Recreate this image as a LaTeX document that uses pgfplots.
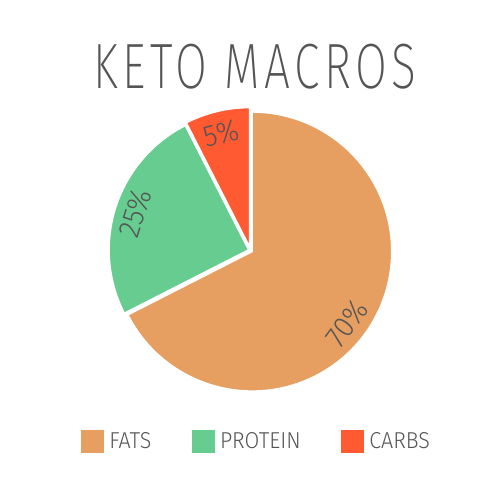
\documentclass[border=0pt]{standalone}
\usepackage{fontspec}
\usepackage{pgfplots}
\pgfplotsset{compat=1.18}
\usepackage{pgfplotstable}
\IfFontExistsTF{Fira Sans Light}{%
  \setmainfont{Fira Sans Light}[FakeStretch=0.93]
}{%
  \setmainfont{Fira Sans}[FakeStretch=0.93]
}
\IfFontExistsTF{Fira Sans ExtraLight}{%
  \newfontfamily\titlefont{Fira Sans ExtraLight}[FakeStretch=0.72,LetterSpace=7]
}{%
  \newfontfamily\titlefont{Fira Sans Light}[FakeStretch=0.72,LetterSpace=7]
}
\definecolor{txt}{RGB}{85,85,85}
\definecolor{fatsc}{RGB}{230,159,96}
\definecolor{protc}{RGB}{102,204,144}
\definecolor{carbc}{RGB}{255,90,50}

% share of the circle as drawn, printed label, label angle, push-out
\pgfplotstableread{
name    value label lang push col
Carbs   7.5   5     104  3.5  carbc
Protein 25    25    162  2    protc
Fats    67.5  70    -37  2    fatsc
}\macros

\begin{document}
\begin{tikzpicture}
\begin{axis}[
    name=ax,
    x=1pt, y=1pt,
    xmin=0, xmax=500, ymin=0, ymax=480,
    hide axis, clip=false,
    legend columns=3,
    legend style={at={(axis cs:256.5,39)}, anchor=center, draw=none, fill=none,
        font=\fontsize{23}{26}\selectfont\color{txt},
        /tikz/every even column/.append style={column sep=38.5pt}},
    legend image code/.code={\fill[#1,draw=none] (0pt,-11.5pt) rectangle (23pt,11.5pt); \path (26pt,0pt);},
]
\def\cx{250.5}\def\cy{229.5}\def\r{139.5}
\pgfplotstablegetrowsof{\macros}
\pgfmathtruncatemacro\N{\pgfplotsretval-1}
\def\acc{90}
\pgfplotsforeachungrouped \i in {0,...,\N}{%
  \pgfplotstablegetelem{\i}{value}\of\macros \let\v\pgfplotsretval
  \pgfplotstablegetelem{\i}{col}\of\macros \let\c\pgfplotsretval
  \pgfplotstablegetelem{\i}{push}\of\macros \let\d\pgfplotsretval
  \pgfplotstablegetelem{\i}{label}\of\macros \let\lab\pgfplotsretval
  \pgfplotstablegetelem{\i}{lang}\of\macros \let\la\pgfplotsretval
  \pgfmathsetmacro\a{\acc}
  \pgfmathsetmacro\b{\acc+3.6*\v}
  \pgfmathsetmacro\m{(\a+\b)/2}
  \pgfmathsetmacro\px{\cx+\d*cos(\m)}
  \pgfmathsetmacro\py{\cy+\d*sin(\m)}
  \pgfmathsetmacro\lx{\cx+121*cos(\la)}
  \pgfmathsetmacro\ly{\cy+121*sin(\la)}
  \pgfmathsetmacro\rot{ifthenelse(\la>0,\la-90,\la+90)}
  \edef\temp{%
    \noexpand\fill[fill=\c, draw=white, line width=1.5pt]
      (axis cs:\px,\py) -- ++(\a:\r pt)
      arc[start angle=\a, end angle=\b, radius=\r pt] -- cycle;
    \noexpand\node[rotate=\rot, text=txt, font=\noexpand\fontsize{30}{32}\noexpand\selectfont]
      at (axis cs:\lx,\ly) {\lab\noexpand\%};
  }\temp
  \global\let\acc\b
}
\node[text=txt, inner sep=0pt, font=\titlefont\fontsize{64}{70}\selectfont] at (axis cs:255,413) {KETO MACROS};
\addlegendimage{fill=fatsc}
\addlegendentry{FATS}
\addlegendimage{fill=protc}
\addlegendentry{PROTEIN}
\addlegendimage{fill=carbc}
\addlegendentry{CARBS}
\end{axis}
\pgfresetboundingbox
\path[use as bounding box] (ax.south west) rectangle (ax.north east);
\end{tikzpicture}
\end{document}
